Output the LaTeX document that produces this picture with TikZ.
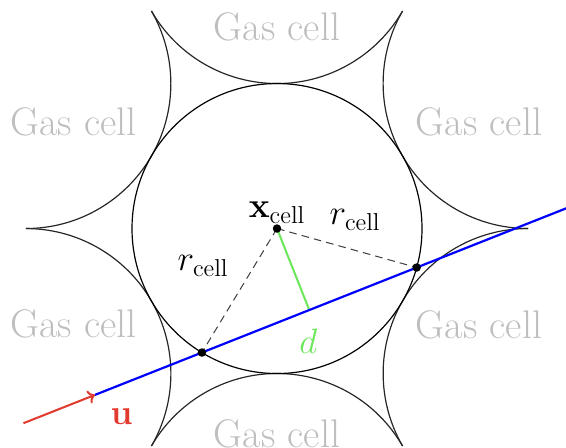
\documentclass[tikz,border=0pt]{standalone}
\definecolor{GasGray}{HTML}{BEBEBE}
\definecolor{URed}{HTML}{E23A2F}
\definecolor{DGreen}{HTML}{6CE65A}
\usepackage{amsmath,amssymb}
\usepackage{bm}
\usepackage{tikz}
\usetikzlibrary{arrows.meta,calc,positioning}

\begin{document}
\begin{tikzpicture}[
    lbl/.style={font=\fontsize{22}{26}\selectfont, inner sep=2pt},
    gas/.style={font=\fontsize{23.5}{28}\selectfont, inner sep=2pt, text=GasGray},
    dot/.style={circle, fill=black, inner sep=0pt, minimum size=5pt},
    radius line/.style={black!75, line width=0.6pt, dash pattern=on 4.5pt off 3pt}
  ]
  \useasboundingbox (-5.731,-4.521) rectangle (5.979,4.728);
  \coordinate (xc) at (0,0);
  % neighbouring cells: arcs between the tangent points
  \foreach \t in {30,90,...,330}
    \draw[black!85, line width=0.7pt] ($(xc)+(\t:6)+(\t+120:3)$) arc[start angle=\t+120, end angle=\t+240, radius=3];
  \draw[line width=0.7pt] (xc) circle (3);
  \coordinate (p1) at (238.8:3);
  \coordinate (p2) at (-15.6:3);
  \coordinate (foot) at ($(p1)!0.5!(p2)$);
  \coordinate (ustart) at ($(p1)+(201.6:3.97)$);
  \coordinate (uend) at ($(p1)+(201.6:2.38)$);
  \coordinate (rayend) at ($(p1)+(21.6:8.4)$);
  \draw[radius line] (xc) -- (p1);
  \draw[radius line] (xc) -- (p2);
  \draw[DGreen, line width=1.2pt] (xc) -- (foot);
  \draw[blue, line width=1.3pt] (uend) -- (rayend);
  \draw[URed, line width=1.2pt, -{To[length=4pt,width=8pt]}] (ustart) -- (uend);
  \node[dot] (cdot) at (xc) {};
  \node[dot] (p1dot) at (p1) {};
  \node[dot] (p2dot) at (p2) {};
  \node[lbl, above=1pt of xc] (xlab) {$\mathbf{x}_{\mathrm{cell}}$};
  \node[lbl] (rright) at (1.614,0.176) {$r_{\mathrm{cell}}$};
  \node[lbl] (rleft) at (-1.531,-0.776) {$r_{\mathrm{cell}}$};
  \node[lbl, text=DGreen] (dlab) at (0.648,-2.342) {$d$};
  \node[lbl, text=URed] (ulab) at (-3.213,-3.900) {$\mathbf{u}$};
  \node[gas] (gtop) at (0,4.175) {Gas cell};
  \node[gas] (gul) at (-4.210,2.203) {Gas cell};
  \node[gas] (gur) at (4.179,2.203) {Gas cell};
  \node[gas] (gll) at (-4.210,-1.976) {Gas cell};
  \node[gas] (glr) at (4.179,-1.997) {Gas cell};
  \node[gas] (gbot) at (0,-4.252) {Gas cell};
\end{tikzpicture}
\end{document}
